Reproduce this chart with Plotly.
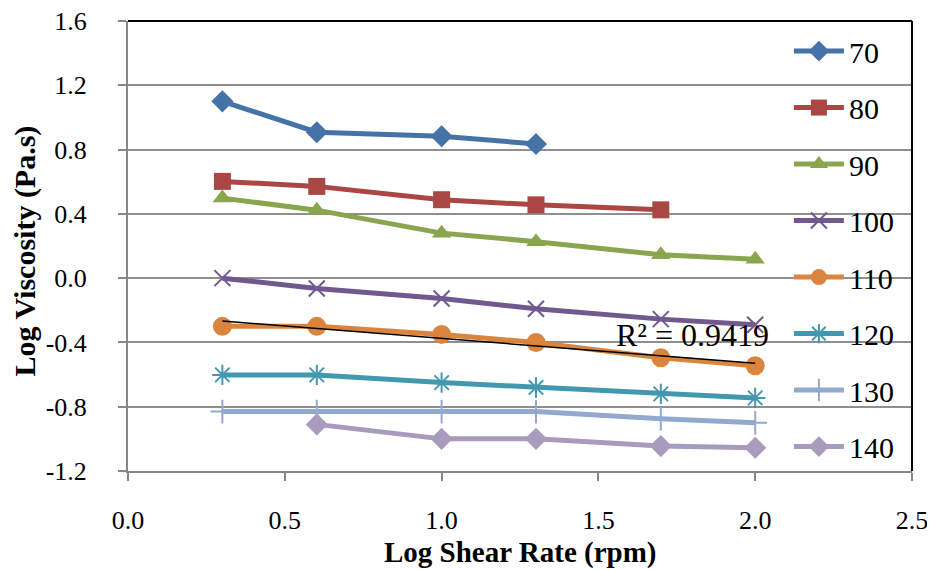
import numpy as np
import plotly.graph_objects as go

# ---- data ----
shear = [0.301, 0.602, 1.0, 1.301, 1.699, 2.0]
temps = ["70", "80", "90", "100", "110", "120", "130", "140"]
v70 = [1.10, 0.908, 0.883, 0.835, None, None]
v80 = [0.602, 0.571, 0.488, 0.456, 0.425, None]
v90 = [0.498, 0.423, 0.28, 0.227, 0.146, 0.117]
v100 = [0.0, -0.064, -0.127, -0.19, -0.255, -0.29]
v110 = [-0.30, -0.30, -0.35, -0.40, -0.495, -0.545]
v120 = [-0.602, -0.602, -0.65, -0.68, -0.72, -0.745]
v130 = [-0.83, -0.83, -0.83, -0.83, -0.875, -0.90]
v140 = [None, -0.91, -1.0, -1.0, -1.045, -1.055]
series = [v70, v80, v90, v100, v110, v120, v130, v140]
r2_text = "R² = 0.9419"
y_ticks = [1.6, 1.2, 0.8, 0.4, 0.0, -0.4, -0.8, -1.2]
x_ticks = [0.0, 0.5, 1.0, 1.5, 2.0, 2.5]
x_title = "Log Shear Rate (rpm)"
y_title = "Log Viscosity (Pa.s)"

colors = ["#4572A7", "#AA4643", "#89A54E", "#71588F", "#DB843D", "#4198AF", "#93A9CF", "#A99BBD"]
symbols = ["diamond", "square", "triangle-up", "x-thin", "circle", "asterisk", "cross-thin", "diamond"]
sizes = [17, 17, 17, 16, 19, 17, 17, 17]

FONT = "Liberation Serif, Times New Roman, serif"

fig = go.Figure()
for i, (name, vals) in enumerate(zip(temps, series)):
    xs = [x for x, v in zip(shear, vals) if v is not None]
    ys = [v for v in vals if v is not None]
    thin = symbols[i] in ("x-thin", "asterisk", "cross-thin")
    fig.add_trace(go.Scatter(
        x=xs, y=ys, name=name, mode="lines+markers",
        legendgroup=name,
        line=dict(color=colors[i], width=5),
        marker=dict(symbol=symbols[i], size=sizes[i], color=colors[i],
                    line=dict(color=colors[i], width=2 if thin else 0)),
    ))

# linear trendline of the 110 series
xa = np.array(shear)
ya = np.array(v110, dtype=float)
m, c = np.polyfit(xa, ya, 1)
fig.add_trace(go.Scatter(x=[xa[0], xa[-1]], y=[m * xa[0] + c, m * xa[-1] + c],
                         mode="lines", line=dict(color="black", width=1.5),
                         showlegend=False, hoverinfo="skip"))

fig.add_annotation(x=1.8, y=-0.355, text=r2_text, showarrow=False,
                   font=dict(family=FONT, size=32, color="black"))

# axis titles
fig.add_annotation(xref="paper", yref="paper", x=0.5, y=-0.182, yanchor="middle",
                   text=f"<b>{x_title}</b>", showarrow=False,
                   font=dict(family=FONT, size=29, color="black"))
fig.add_annotation(xref="paper", yref="paper", x=-0.132, y=0.489, xanchor="center",
                   text=f"<b>{y_title}</b>", showarrow=False, textangle=-90,
                   font=dict(family=FONT, size=30, color="black"))

# black top and right border of the plot area
fig.add_shape(type="line", xref="x domain", yref="y domain", x0=0, x1=1, y0=1, y1=1,
              line=dict(color="black", width=2))
fig.add_shape(type="line", xref="x domain", yref="y domain", x0=1, x1=1, y0=0, y1=1,
              line=dict(color="black", width=2))

# the page body has an 8px margin, so the figure is 8px smaller than the window
fig.update_layout(
    width=927, height=562,
    margin=dict(l=120, r=23, t=13, b=99, autoexpand=False),
    paper_bgcolor="white", plot_bgcolor="white",
    font=dict(family=FONT, color="black"),
    showlegend=True,
    legend=dict(x=0.843, y=0.991, xanchor="left", yanchor="top",
                bgcolor="rgba(0,0,0,0)", borderwidth=0, maxheight=600,
                itemwidth=50,
                font=dict(family=FONT, size=30, color="black"),
                traceorder="grouped", tracegroupgap=14.5),
    xaxis=dict(range=[0, 2.5], tickvals=x_ticks, ticktext=[f"{v:.1f}" for v in x_ticks],
               showgrid=False, zeroline=False, automargin=False,
               showline=True, linecolor="#868686", linewidth=2,
               ticks="outside", ticklen=8, tickwidth=2, tickcolor="#868686",
               tickfont=dict(family=FONT, size=26, color="black"),
               ticklabelstandoff=17, ticklabeloverflow="allow"),
    yaxis=dict(range=[-1.2, 1.6], tickvals=y_ticks, ticktext=[f"{v:.1f}" for v in y_ticks],
               showgrid=True, gridcolor="#8F8F8F", gridwidth=1.5, zeroline=False,
               automargin=False,
               showline=True, linecolor="#868686", linewidth=2,
               ticks="outside", ticklen=8, tickwidth=2, tickcolor="#868686",
               tickfont=dict(family=FONT, size=26, color="black"),
               ticklabelstandoff=26, ticklabeloverflow="allow"),
)

fig.write_html("out.html")
